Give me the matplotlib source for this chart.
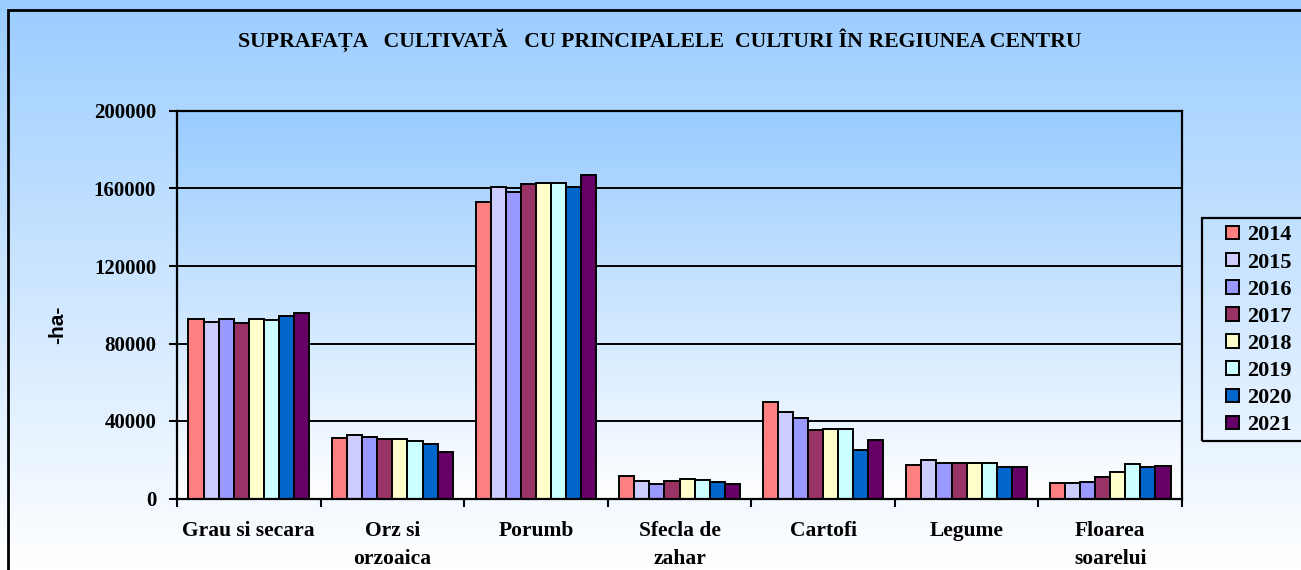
import matplotlib.pyplot as plt
import numpy as np
from matplotlib.patches import Rectangle
from matplotlib.colors import LinearSegmentedColormap

# Data (hectares)
categories = ["Grau si secara", "Orz si\norzoaica", "Porumb", "Sfecla de\nzahar",
              "Cartofi", "Legume", "Floarea\nsoarelui"]
years = ["2014", "2015", "2016", "2017", "2018", "2019", "2020", "2021"]
v2014 = [92900, 31000, 153200, 11800, 49700, 17300, 8100]
v2015 = [91200, 32700, 160900, 9200, 44800, 19900, 7800]
v2016 = [92400, 31500, 158300, 7400, 41400, 18500, 8700]
v2017 = [90400, 30500, 162300, 9200, 35500, 18300, 11200]
v2018 = [92800, 30600, 162600, 9900, 35800, 18300, 13700]
v2019 = [92100, 29800, 163000, 9500, 35800, 18300, 17600]
v2020 = [94100, 27900, 160900, 8500, 25100, 16100, 16400]
v2021 = [95500, 24100, 167000, 7400, 30300, 16100, 16800]
series = [v2014, v2015, v2016, v2017, v2018, v2019, v2020, v2021]
yticks = [0, 40000, 80000, 120000, 160000, 200000]

colors = ['#FF8080', '#CCCCFF', '#9999FF', '#993366',
          '#FFFFCC', '#CCFFFF', '#0066CC', '#660066']

serif = 'Liberation Serif'
W, H = 1301, 570

fig = plt.figure(figsize=(W / 100, H / 100), dpi=100)

# Outer chart background with gradient
cmap = LinearSegmentedColormap.from_list('bg', ['#99CCFF', '#FFFFFF'])
bg = fig.add_axes([0, 0, 1, 1], zorder=-2)
bg.imshow(np.linspace(0, 1, 256).reshape(-1, 1), aspect='auto', cmap=cmap,
          extent=[0, 1, 0, 1], vmin=-0.02, vmax=1.0)
bg.set_xlim(0, 1)
bg.set_ylim(0, 1)
bg.axis('off')
bg.add_patch(Rectangle((8 / W, -0.1), 1.2, 1 - 10 / H + 0.1, fill=False,
                       edgecolor='black', linewidth=2, transform=bg.transAxes,
                       clip_on=False))
# legend box (runs off the right edge like the original)
bg.add_patch(Rectangle((1202 / W, 1 - 441 / H), 0.2, (441 - 218) / H, fill=False,
                       edgecolor='black', linewidth=1.6, transform=bg.transAxes,
                       clip_on=False))

# Plot area
ax = fig.add_axes([177 / W, 1 - 498.5 / H, (1182 - 177) / W, (498.5 - 111) / H])
ax.imshow(np.linspace(0, 1, 256).reshape(-1, 1), aspect='auto', cmap=cmap,
          extent=[-0.5, 6.5, 0, 200000], zorder=0, vmin=0, vmax=1.0)

x = np.arange(len(categories))
bar_width = 0.105
n = len(series)
for i, vals in enumerate(series):
    ax.bar(x + (i - (n - 1) / 2) * bar_width, vals, width=bar_width,
           color=colors[i], edgecolor='black', linewidth=1.4,
           label=years[i], zorder=3)

ax.set_xlim(-0.5, 6.5)
ax.set_ylim(0, 200000)
ax.set_yticks(yticks)
ax.set_yticklabels([str(t) for t in yticks], fontfamily=serif,
                   fontweight='bold', fontsize=15)
ax.yaxis.grid(True, color='black', linewidth=1.4, zorder=1)
ax.set_axisbelow(False)

# category labels between boundary ticks
ax.set_xticks(np.arange(-0.5, 7, 1))
ax.set_xticklabels([])
ax.set_xticks(x, minor=True)
ax.set_xticklabels(categories, minor=True, fontfamily=serif,
                   fontweight='bold', fontsize=15.5, linespacing=1.55, va='top')
ax.tick_params(axis='x', which='minor', length=0, pad=16)
ax.tick_params(axis='x', which='major', length=6, width=1.5, direction='out')
ax.tick_params(axis='y', length=6, width=1.5, direction='out', pad=9)

for s in ax.spines.values():
    s.set_linewidth(1.6)
    s.set_zorder(4)

fig.text(58 / W, 1 - 325 / H, "-ha-", rotation=90, ha='center', va='center',
         fontfamily='Liberation Sans', fontweight='bold', fontsize=15)

fig.text(660 / W, 1 - 40 / H,
         "SUPRAFAȚA   CULTIVATĂ   CU PRINCIPALELE  CULTURI ÎN REGIUNEA CENTRU",
         ha='center', va='center', fontfamily=serif, fontweight='bold',
         fontsize=15.7)

leg = ax.legend(loc='upper left', bbox_to_anchor=(1222 / W, 1 - 221 / H),
                bbox_transform=fig.transFigure, frameon=False,
                prop={'family': serif, 'weight': 'bold', 'size': 16},
                handlelength=0.55, handleheight=0.55, handletextpad=0.4,
                labelspacing=0.32, borderpad=0.2, borderaxespad=0)

fig.savefig('out.png', dpi=100)
